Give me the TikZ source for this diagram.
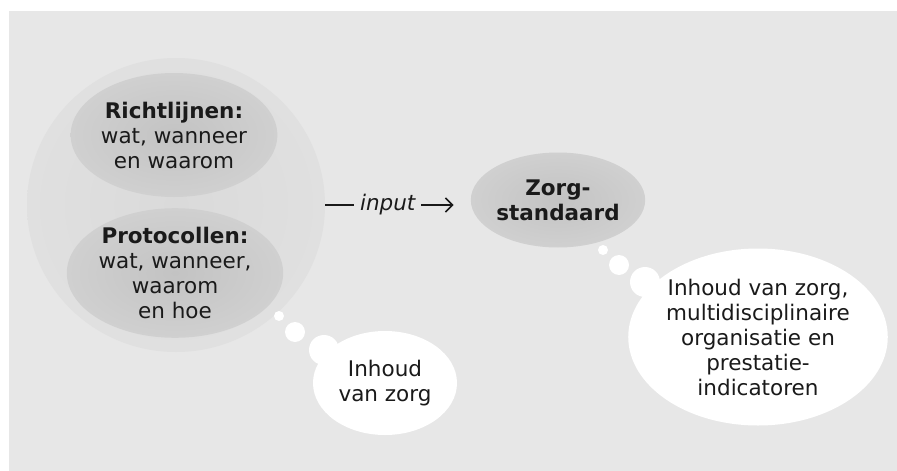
\documentclass[tikz,border=0pt]{standalone}
\usepackage{fontspec}
\setmainfont{DejaVu Sans}
\usetikzlibrary{shapes.geometric,arrows.meta}
\definecolor{panel}{HTML}{E7E7E7}
\definecolor{bigfill}{HTML}{DADADA}
\definecolor{bigedge}{HTML}{E0E0E0}
\definecolor{darkin}{HTML}{C3C3C3}
\definecolor{darkout}{HTML}{D0D0D0}
\definecolor{ink}{HTML}{1A1A1A}
\tikzset{
  txt/.style={font=\fontsize{21.5}{25}\selectfont, text=ink, align=center},
  bigcirc/.style={ellipse, inner sep=0pt, inner color=bigfill, outer color=bigedge, shade},
  darkell/.style={ellipse, inner sep=0pt, inner color=darkin, outer color=darkout, shade, txt},
  cloud/.style={ellipse, inner sep=0pt, fill=white, txt},
  puff/.style={fill=white},
  conn/.style={line width=1.6pt, draw=ink, -{Straight Barb[length=7pt,width=14pt,line width=1.6pt]}}
}
\begin{document}
\begin{tikzpicture}[x=1pt,y=-1pt]
\useasboundingbox (0,0) rectangle (897,471);
\fill[white] (0,0) rectangle (897,471);
\fill[panel] (9,11) rectangle (897,471);

% big circle
\node[bigcirc, minimum width=298pt, minimum height=294pt] (big) at (176,205) {};
\node[darkell, minimum width=192pt, minimum height=124pt] (richt) at (174,135)
  {\textbf{Richtlijnen:}\\wat, wanneer\\en waarom};
\node[darkell, minimum width=194pt, minimum height=128pt] (proto) at (175,273)
  {\textbf{Protocollen:}\\wat, wanneer,\\waarom\\en hoe};

% zorgstandaard
\node[darkell, minimum width=157pt, minimum height=95pt] (zorg) at (558,200)
  {\textbf{Zorg-}\\\textbf{standaard}};

% connector
\draw[conn, shorten >=17pt] (big.east |- 0,205) coordinate (cs) -- (zorg.west |- 0,205) coordinate (ce)
  node[pos=0.43, fill=panel, inner xsep=6pt, inner ysep=2pt, txt, font=\fontsize{21.5}{25}\selectfont\itshape] (inp) {input};

% left thought bubble
\fill[puff] (279,316) circle (5);
\fill[puff] (295,332) circle (10);
\fill[puff] (324,350) circle (15);
\node[cloud, minimum width=144pt, minimum height=104pt] (inh1) at (385,383)
  {Inhoud\\van zorg};

% right thought bubble
\fill[puff] (603,250) circle (5);
\fill[puff] (619,265) circle (10);
\fill[puff] (645,282) circle (15);
\node[cloud, minimum width=254pt, minimum height=177pt] (inh2) at (758,337)
  {Inhoud van zorg,\\multidisciplinaire\\organisatie en\\prestatie-\\indicatoren};
\end{tikzpicture}
\end{document}
